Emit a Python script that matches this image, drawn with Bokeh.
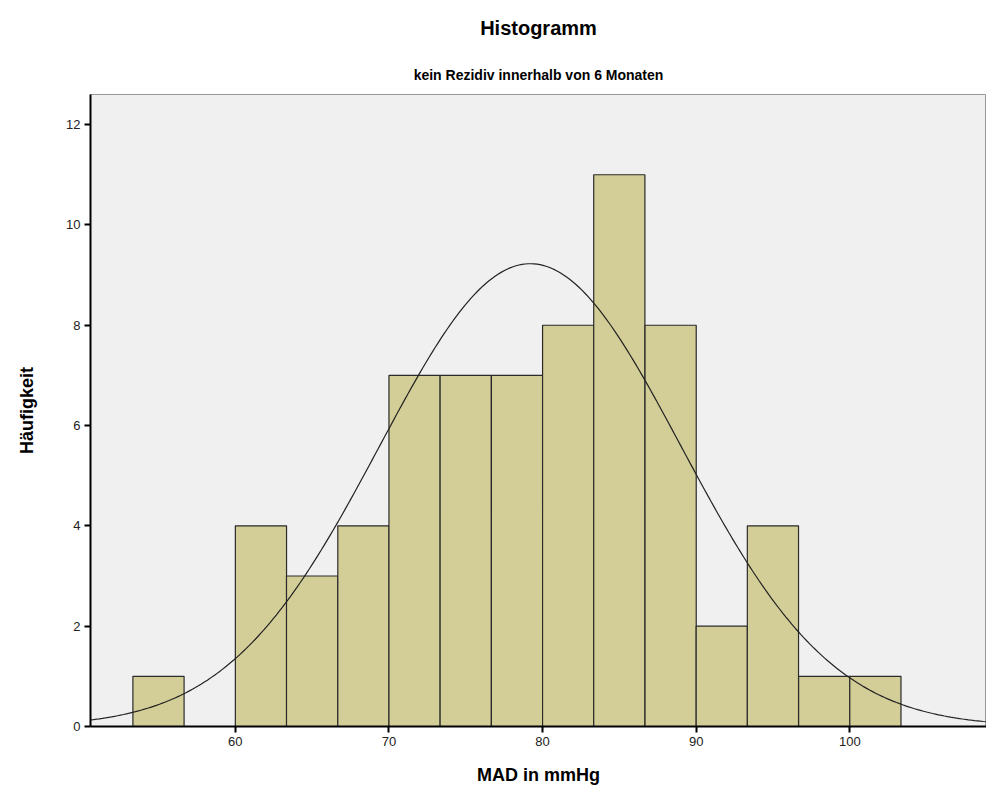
import numpy as np
from bokeh.plotting import figure
from bokeh.models import Title, FixedTicker
from bokeh.embed import file_html
from bokeh.resources import INLINE

# Klassengrenzen und Häufigkeiten
bin_left = [53.33, 56.67, 60.0, 63.33, 66.67, 70.0, 73.33, 76.67, 80.0, 83.33, 86.67, 90.0, 93.33, 96.67, 100.0]
bin_width = 3.333
counts = [1, 0, 4, 3, 4, 7, 7, 7, 8, 11, 8, 2, 4, 1, 1]

# Normalverteilungskurve
mean = 79.2
sd = 9.8
n = sum(counts)

p = figure(width=986, height=787, x_range=(50.57, 108.9), y_range=(0, 12.6),
           output_backend="svg", toolbar_location=None,
           min_border_left=90, min_border_right=0, min_border_bottom=50, min_border_top=10)
p.background_fill_color = "#f0f0f0"
p.border_fill_color = "white"
p.outline_line_color = "#999999"
p.grid.visible = False

p.add_layout(Title(text="kein Rezidiv innerhalb von 6 Monaten", align="center", text_color="black", standoff=24,
                   text_font="Liberation Sans", text_font_size="14px", text_font_style="bold"), "above")
p.add_layout(Title(text="Histogramm", align="center", text_color="black", standoff=28,
                   text_font="Liberation Sans", text_font_size="20px", text_font_style="bold"), "above")

left = [b for b, c in zip(bin_left, counts) if c > 0]
hts = [c for c in counts if c > 0]
p.quad(left=left, right=[l + bin_width for l in left], bottom=0, top=hts,
       fill_color="#d3ce97", line_color="#2a2a2a", line_width=1.2)

xs = np.linspace(50.57, 108.9, 300)
ys = n * bin_width / (sd * np.sqrt(2 * np.pi)) * np.exp(-0.5 * ((xs - mean) / sd) ** 2)
p.line(xs, ys, line_color="#222222", line_width=1.2)

p.xaxis.ticker = FixedTicker(ticks=[60, 70, 80, 90, 100])
p.yaxis.ticker = FixedTicker(ticks=[0, 2, 4, 6, 8, 10, 12])
for ax in (p.xaxis[0], p.yaxis[0]):
    ax.axis_line_color = "black"
    ax.axis_line_width = 2
    ax.major_tick_line_color = "black"
    ax.major_tick_line_width = 2
    ax.major_tick_out = 6
    ax.major_tick_in = 0
    ax.minor_tick_line_color = None
    ax.major_label_standoff = 4
    ax.major_label_text_font = "Liberation Sans"
    ax.major_label_text_font_size = "13px"
    ax.major_label_text_color = "#222222"
    ax.axis_label_text_font = "Liberation Sans"
    ax.axis_label_text_font_size = "18px"
    ax.axis_label_text_font_style = "bold"
    ax.axis_label_text_color = "black"
p.xaxis.axis_label = "MAD in mmHg"
p.yaxis.axis_label = "Häufigkeit"
p.xaxis.axis_label_standoff = 16
p.yaxis.axis_label_standoff = 26

open("out.html", "w").write(file_html(p, INLINE))
